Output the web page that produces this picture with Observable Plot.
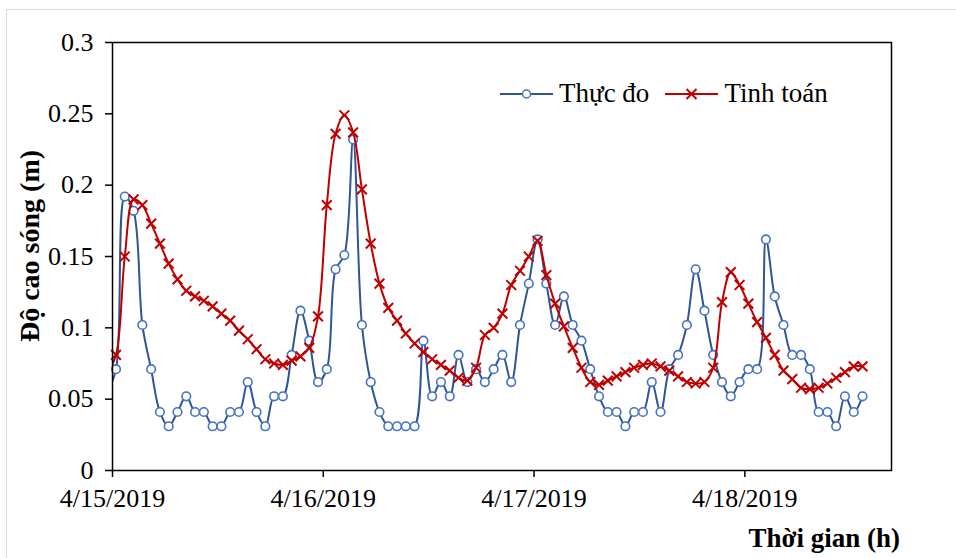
<!DOCTYPE html>
<html><head><meta charset="utf-8">
<script src="https://cdn.jsdelivr.net/npm/d3@7"></script>
<script src="https://cdn.jsdelivr.net/npm/@observablehq/plot@0.6"></script>
<style>
body{margin:0;background:#fff;}
#wrap{position:relative;width:956px;height:558px;font-family:"Times New Roman","Liberation Serif",serif;overflow:hidden;background:#fff;}
#border{position:absolute;left:6px;top:9px;width:980px;height:600px;border:1px solid #d9d9d9;box-sizing:border-box;}
#chart{position:absolute;left:0;top:0;}
#ytitle{position:absolute;left:30px;top:246px;transform:translate(-50%,-50%) rotate(-90deg);font-weight:bold;font-size:28px;white-space:nowrap;color:#000;line-height:1;}
#xtitle{position:absolute;right:56px;top:523px;font-weight:bold;font-size:27px;white-space:nowrap;color:#000;}
#legend{position:absolute;left:500px;top:78px;display:flex;align-items:center;font-size:27px;color:#000;white-space:nowrap;}
#legend svg{display:block;}
</style></head><body>
<div id="wrap">
<div id="border"></div>
<div id="chart"></div>
<div id="ytitle">Độ cao sóng (m)</div>
<div id="xtitle">Thời gian (h)</div>
<div id="legend">
<svg width="53" height="20"><line x1="0" x2="53" y1="10" y2="10" stroke="#2F5597" stroke-width="2"/><circle cx="26.5" cy="10" r="4" fill="white" stroke="#4472C4" stroke-width="1.5"/></svg>
<span style="margin-left:6px;margin-right:16px">Thực đo</span>
<svg width="53" height="20"><line x1="0" x2="53" y1="10" y2="10" stroke="#C00000" stroke-width="2"/><path d="M21.5,5L31.5,15M31.5,5L21.5,15" stroke="#C00000" stroke-width="2"/></svg>
<span style="margin-left:6px">Tinh toán</span>
</div>
</div>
<script>
// Series labels
const seriesNames = ["Thực đo", "Tinh toán"];
// Start of record (UTC) and hourly sample times (hours from 4/15/2019 00:00)
const startDate = Date.UTC(2019, 3, 15);
const sampleHours = d3.range(-1, 86).map(i => i + 0.4);
const xMaxHours = 88.7;
// Measured wave height (m), hourly
const measured = [0.055,
 0.071,0.192,0.182,0.102,0.071,0.041,0.031,0.041,0.052,0.041,
 0.041,0.031,0.031,0.041,0.041,0.062,0.041,0.031,0.052,0.052,
 0.081,0.112,0.091,0.062,0.071,0.141,0.151,0.232,0.102,0.062,
 0.041,0.031,0.031,0.031,0.031,0.091,0.052,0.062,0.052,0.081,
 0.062,0.071,0.062,0.071,0.081,0.062,0.102,0.131,0.162,0.131,
 0.102,0.122,0.102,0.091,0.071,0.052,0.041,0.041,0.031,0.041,
 0.041,0.062,0.041,0.071,0.081,0.102,0.141,0.112,0.081,0.062,
 0.052,0.062,0.071,0.071,0.162,0.122,0.102,0.081,0.081,0.071,
 0.041,0.041,0.031,0.052,0.041,0.052];
// Computed wave height (m), hourly
const computed = [0.068,
 0.081,0.150,0.190,0.186,0.173,0.159,0.145,0.134,0.126,0.122,
 0.119,0.115,0.110,0.105,0.098,0.092,0.085,0.078,0.075,0.074,
 0.077,0.080,0.086,0.108,0.186,0.236,0.249,0.237,0.197,0.159,
 0.131,0.114,0.105,0.096,0.089,0.083,0.078,0.074,0.070,0.065,
 0.063,0.072,0.095,0.100,0.110,0.130,0.140,0.150,0.161,0.137,
 0.117,0.101,0.086,0.072,0.062,0.060,0.063,0.066,0.069,0.072,
 0.074,0.075,0.073,0.070,0.066,0.062,0.061,0.062,0.072,0.118,
 0.139,0.130,0.117,0.104,0.093,0.081,0.070,0.064,0.058,0.057,
 0.058,0.061,0.065,0.069,0.073,0.073];
// Tick values
const xTickLabels = ["4/15/2019", "4/16/2019", "4/17/2019", "4/18/2019"];
const yTicks = [0, 0.05, 0.1, 0.15, 0.2, 0.25, 0.3];

const HOUR = 3600e3;
const toDate = h => new Date(startDate + h * HOUR);
const blueData = sampleHours.map((h, i) => ({t: toDate(h), v: measured[i], h}));
const redData = sampleHours.map((h, i) => ({t: toDate(h), v: computed[i], h}));
const xTicks = xTickLabels.map(s => { const [m, d, y] = s.split("/").map(Number); return new Date(Date.UTC(y, m - 1, d)); });
const fmt = d3.utcFormat("%-m/%-d/%Y");

const chart = Plot.plot({
  width: 956, height: 558,
  marginLeft: 112, marginRight: 65, marginTop: 42, marginBottom: 88,
  style: {fontFamily: '"Times New Roman","Liberation Serif",serif', fontSize: "26px", color: "black", background: "transparent", overflow: "visible"},
  x: {type: "utc", domain: [toDate(0), toDate(xMaxHours)]},
  y: {domain: [0, 0.3]},
  marks: [
    Plot.axisX({ticks: xTicks, tickFormat: fmt, tickSize: 7, tickPadding: 11, label: null, fontSize: 26, strokeWidth: 1.5}),
    Plot.axisY({ticks: yTicks, tickFormat: d => String(d), tickSize: 7, tickPadding: 12, label: null, fontSize: 26, strokeWidth: 1.5}),
    Plot.line(blueData, {x: "t", y: "v", stroke: "#2F5597", strokeWidth: 2, curve: "catmull-rom", clip: true}),
    Plot.dot(blueData.filter(d => d.h >= 0), {x: "t", y: "v", r: 4.3, fill: "white", stroke: "#4472C4", strokeWidth: 1.6}),
    Plot.line(redData, {x: "t", y: "v", stroke: "#C00000", strokeWidth: 2, curve: "catmull-rom", clip: true}),
    Plot.dot(redData.filter(d => d.h >= 0), {x: "t", y: "v", symbol: "times", r: 4.5, stroke: "#C00000", strokeWidth: 2}),
    Plot.frame({stroke: "black", strokeWidth: 1.5})
  ]
});
document.getElementById("chart").appendChild(chart);
</script>
</body></html>
